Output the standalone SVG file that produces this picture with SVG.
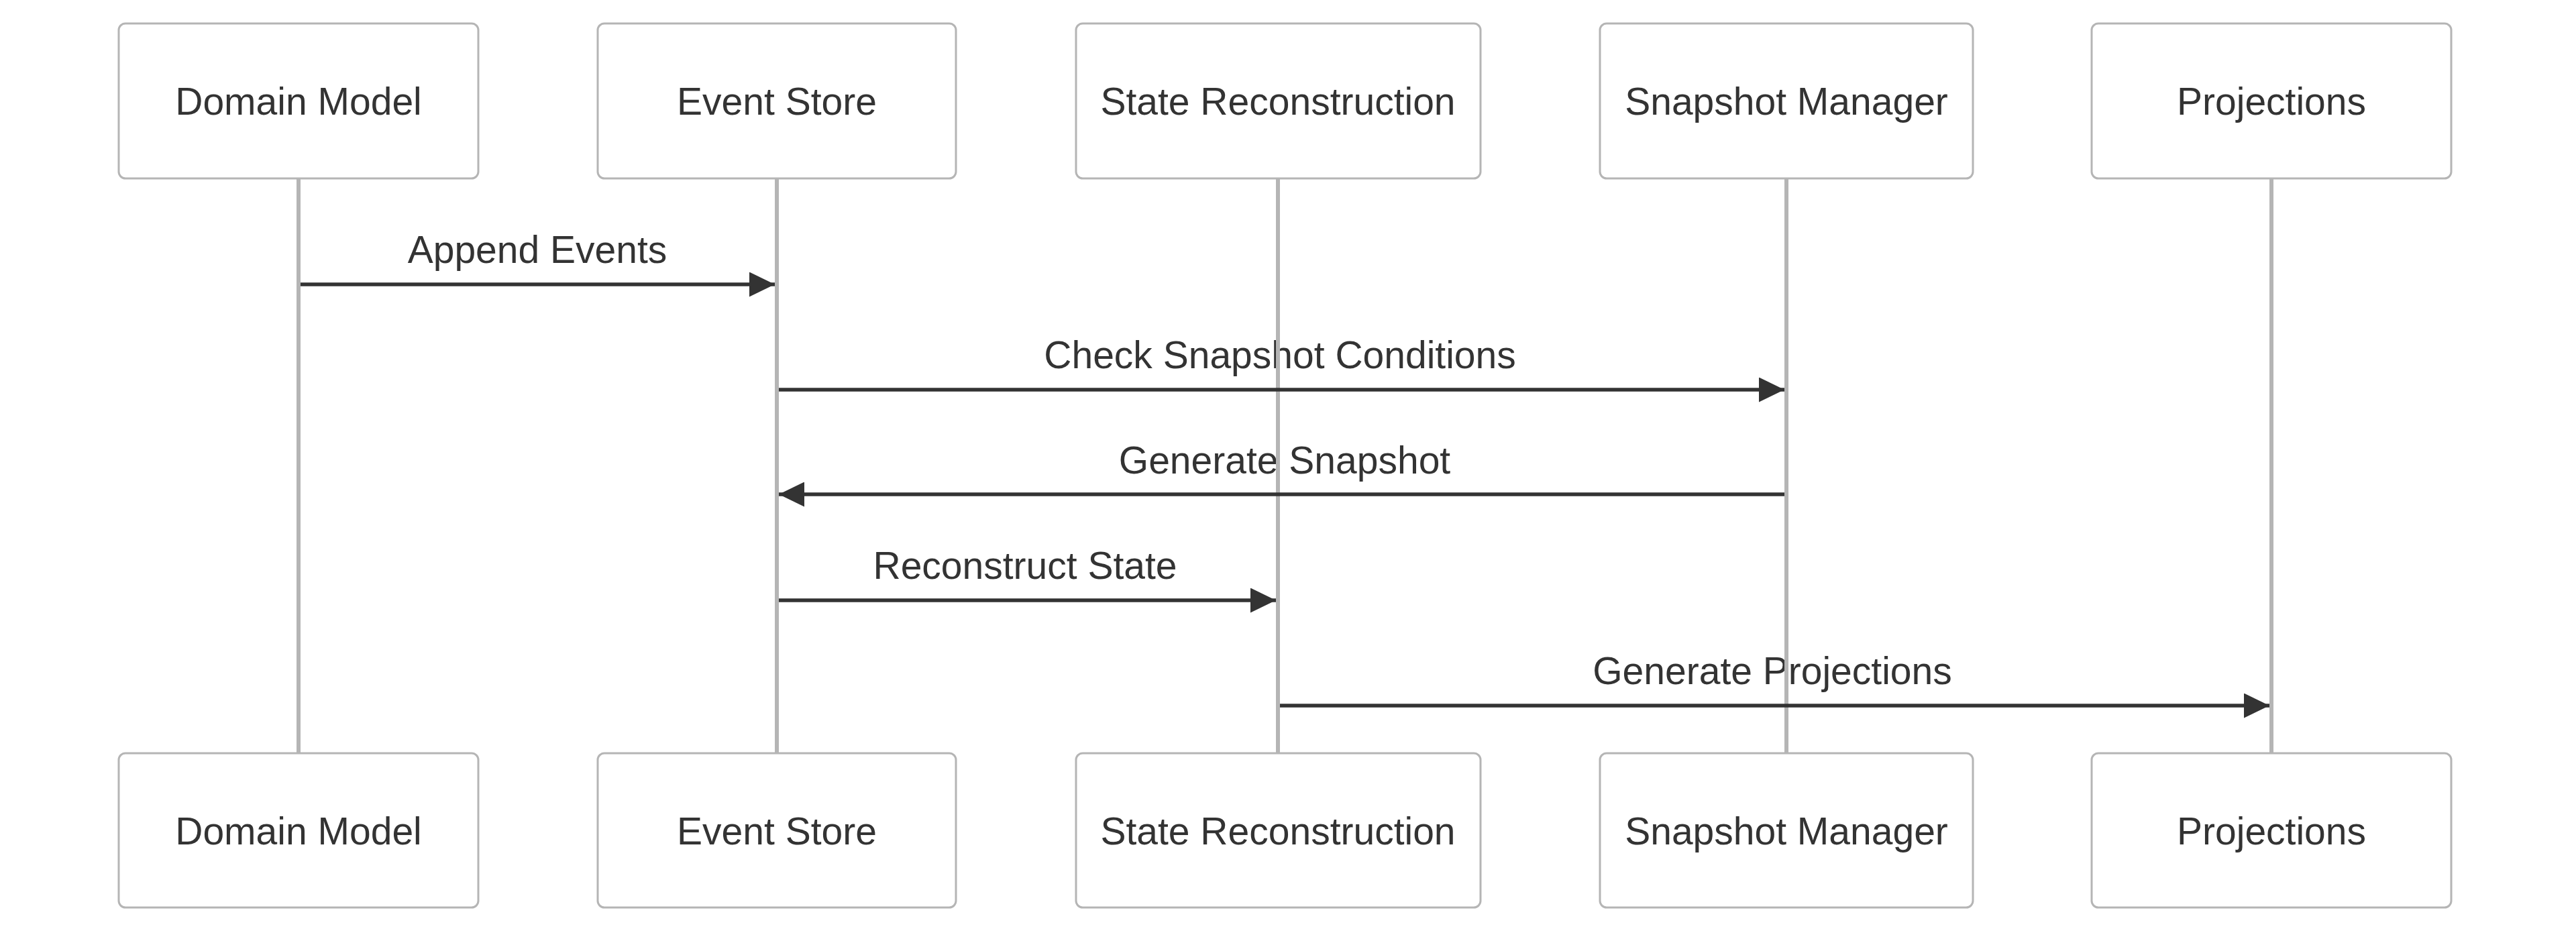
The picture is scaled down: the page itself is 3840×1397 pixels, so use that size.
<svg xmlns="http://www.w3.org/2000/svg" width="3840" height="1397" viewBox="0 0 3840 1397">
<style>
.box{fill:#ffffff;stroke:#b5b5b5;stroke-width:3}
.life{stroke:#b5b5b5;stroke-width:6}
.msg{stroke:#333333;stroke-width:5.5;fill:none}
.t{font-family:"Liberation Sans",Arial,sans-serif;font-size:57px;fill:#333333;text-anchor:middle}
</style>
<defs>
<marker id="ah" markerUnits="userSpaceOnUse" viewBox="0 0 38 37" refX="38" refY="18.5" markerWidth="38" markerHeight="37" orient="auto">
<path d="M0,0 L38,18.5 L0,37 Z" fill="#333333"/>
</marker>
</defs>
<rect width="3840" height="1397" fill="#ffffff"/>
<g id="message-labels">
<text class="t" x="801" y="392">Append Events</text>
<text class="t" x="1908" y="549">Check Snapshot Conditions</text>
<text class="t" x="1915" y="706">Generate Snapshot</text>
<text class="t" x="1528" y="863">Reconstruct State</text>
<text class="t" x="2642" y="1020">Generate Projections</text>
</g>
<g id="lifelines">
<line class="life" x1="445" y1="266" x2="445" y2="1123"/>
<line class="life" x1="1158" y1="266" x2="1158" y2="1123"/>
<line class="life" x1="1905" y1="266" x2="1905" y2="1123"/>
<line class="life" x1="2663" y1="266" x2="2663" y2="1123"/>
<line class="life" x1="3386" y1="266" x2="3386" y2="1123"/>
</g>
<g id="connectors">
<line class="msg" x1="448" y1="424" x2="1155" y2="424" marker-end="url(#ah)"/>
<line class="msg" x1="1161" y1="581" x2="2660" y2="581" marker-end="url(#ah)"/>
<line class="msg" x1="2660" y1="737" x2="1161" y2="737" marker-end="url(#ah)"/>
<line class="msg" x1="1161" y1="895" x2="1902" y2="895" marker-end="url(#ah)"/>
<line class="msg" x1="1908" y1="1052" x2="3383" y2="1052" marker-end="url(#ah)"/>
</g>
<g id="actor-domain-top"><rect class="box" x="177" y="35" width="536" height="231" rx="10"/><text class="t" x="445" y="171">Domain Model</text></g>
<g id="actor-eventstore-top"><rect class="box" x="891" y="35" width="534" height="231" rx="10"/><text class="t" x="1158" y="171">Event Store</text></g>
<g id="actor-state-top"><rect class="box" x="1604" y="35" width="603" height="231" rx="10"/><text class="t" x="1905" y="171">State Reconstruction</text></g>
<g id="actor-snapshot-top"><rect class="box" x="2385" y="35" width="556" height="231" rx="10"/><text class="t" x="2663" y="171">Snapshot Manager</text></g>
<g id="actor-projections-top"><rect class="box" x="3118" y="35" width="536" height="231" rx="10"/><text class="t" x="3386" y="171">Projections</text></g>
<g id="actor-domain-bottom"><rect class="box" x="177" y="1123" width="536" height="230" rx="10"/><text class="t" x="445" y="1259">Domain Model</text></g>
<g id="actor-eventstore-bottom"><rect class="box" x="891" y="1123" width="534" height="230" rx="10"/><text class="t" x="1158" y="1259">Event Store</text></g>
<g id="actor-state-bottom"><rect class="box" x="1604" y="1123" width="603" height="230" rx="10"/><text class="t" x="1905" y="1259">State Reconstruction</text></g>
<g id="actor-snapshot-bottom"><rect class="box" x="2385" y="1123" width="556" height="230" rx="10"/><text class="t" x="2663" y="1259">Snapshot Manager</text></g>
<g id="actor-projections-bottom"><rect class="box" x="3118" y="1123" width="536" height="230" rx="10"/><text class="t" x="3386" y="1259">Projections</text></g>
</svg>
